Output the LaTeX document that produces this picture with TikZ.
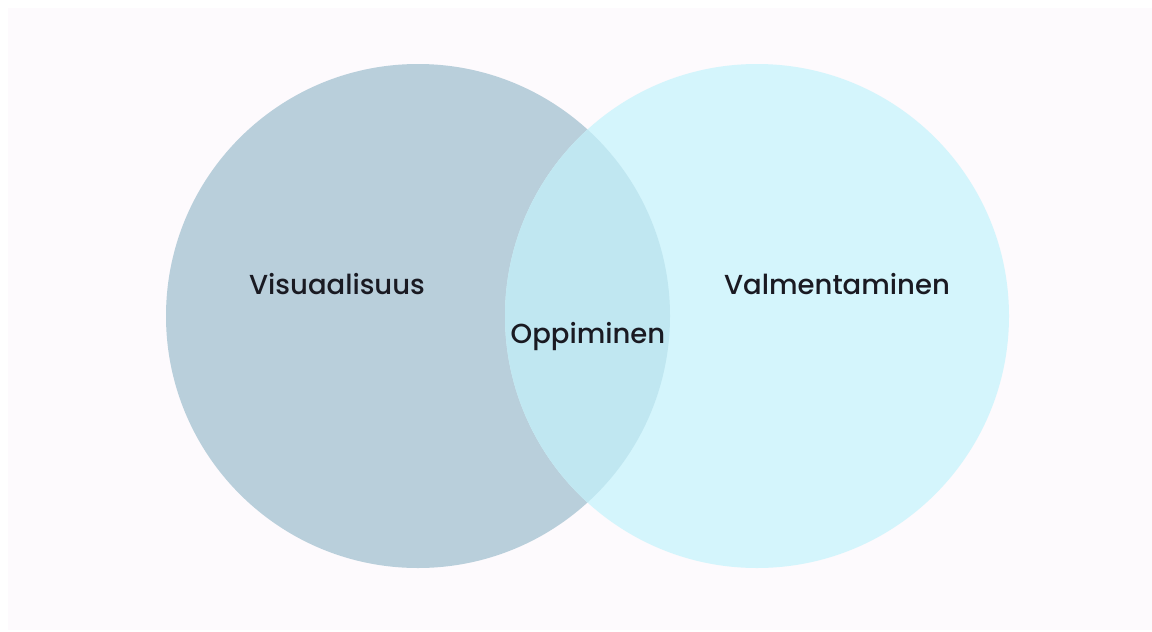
\documentclass[tikz,border=0pt]{standalone}
\usepackage{fontspec}
\setmainfont{Poppins}[UprightFont=* Medium]
\definecolor{fondo}{HTML}{FDFAFD}
\definecolor{azulgris}{HTML}{B9CFDB}
\definecolor{celeste}{HTML}{D4F5FC}
\definecolor{cruce}{HTML}{C0E7F1}
\definecolor{texto}{HTML}{1A1A22}
\tikzset{
  conjunto/.style={circle, minimum size=504pt, inner sep=0pt, draw=none},
  etiqueta/.style={text=texto, font=\fontsize{27.5}{32}\selectfont}
}
\begin{document}
\begin{tikzpicture}[x=1pt,y=-1pt]
        % Marco y fondo
        \useasboundingbox (0,0) rectangle (1152,632);
        \fill[white] (0,0) rectangle (1152,632);
        \fill[fondo] (8,8) rectangle (1152,630);

        % Los dos conjuntos
        \node[conjunto, fill=azulgris] (visual) at (418,316) {};
        \node[conjunto, fill=celeste] (valmennus) at (757,316) {};

        % Intersección
        \begin{scope}
            \clip (418,316) circle (252);
            \fill[cruce] (757,316) circle (252);
        \end{scope}

        % Etiquetas de los conjuntos
        \node[etiqueta] (visuaalisuus) at (337,284) {Visuaalisuus};
        \node[etiqueta] (valmentaminen) at (837,284) {Valmentaminen};
        \node[etiqueta] (oppiminen) at (588,337) {Oppiminen};
    \end{tikzpicture}
\end{document}
